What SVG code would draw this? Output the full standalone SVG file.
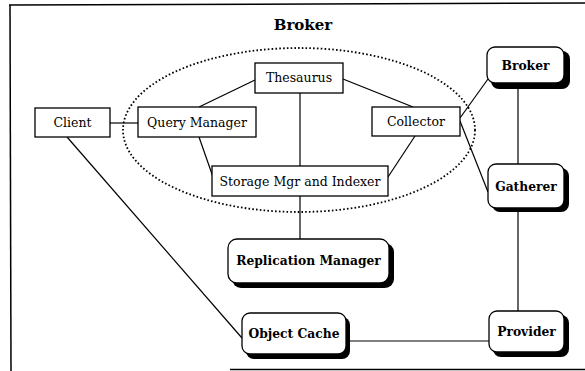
<svg xmlns="http://www.w3.org/2000/svg" width="585" height="371" viewBox="0 0 585 371">
<style>
.frame{stroke:#000;stroke-width:1.5;fill:none}
.box{fill:#fff;stroke:#000;stroke-width:1.3}
.rbox{fill:#fff;stroke:#000;stroke-width:1.3}
.shadow{fill:#000}
.conn line,.conn path{stroke:#000;stroke-width:1.2;fill:none}
.ell{fill:none;stroke:#000;stroke-width:1.8;stroke-dasharray:1.6 2.2}
.t{font-family:"DejaVu Serif","Liberation Serif",serif;font-size:12.5px;fill:#000;text-anchor:middle}
.b{font-family:"DejaVu Serif","Liberation Serif",serif;font-size:12.3px;font-weight:bold;fill:#000;text-anchor:middle}
.title{font-family:"DejaVu Serif","Liberation Serif",serif;font-size:15px;font-weight:bold;fill:#000;text-anchor:middle}
</style>
<rect width="585" height="371" fill="#fff"/>
<g id="frame">
<line class="frame" x1="9" y1="5" x2="585" y2="3"/>
<line class="frame" x1="10" y1="5" x2="11" y2="371"/>
<line class="frame" x1="230" y1="369.5" x2="585" y2="369.5"/>
</g>
<text class="title" x="303" y="30">Broker</text>
<ellipse class="ell" cx="299" cy="130" rx="176" ry="82"/>
<g class="conn" id="connectors">
<line x1="110" y1="123" x2="138" y2="123"/>
<line x1="199" y1="107" x2="255" y2="80"/>
<line x1="199" y1="137" x2="213" y2="177"/>
<line x1="300" y1="93" x2="300" y2="166"/>
<line x1="343" y1="79" x2="413" y2="107"/>
<line x1="415" y1="136" x2="388" y2="177"/>
<line x1="460" y1="118" x2="488" y2="79"/>
<line x1="460" y1="121" x2="488" y2="192"/>
<line x1="518" y1="83" x2="518" y2="164"/>
<line x1="518" y1="208" x2="518" y2="311"/>
<line x1="300" y1="196" x2="300" y2="239"/>
<line x1="67" y1="137" x2="242" y2="338"/>
<line x1="350" y1="341" x2="489" y2="341"/>
</g>
<g id="client"><rect class="box" x="35" y="108" width="75" height="29"/><text class="t" x="72.5" y="127">Client</text></g>
<g id="query-manager"><rect class="box" x="138" y="107" width="118" height="30"/><text class="t" x="197" y="126.5">Query Manager</text></g>
<g id="thesaurus"><rect class="box" x="255" y="63" width="88" height="30"/><text class="t" x="299" y="82">Thesaurus</text></g>
<g id="collector"><rect class="box" x="372" y="107" width="88" height="29"/><text class="t" x="416" y="126">Collector</text></g>
<g id="storage"><rect class="box" x="212" y="166" width="176" height="30"/><text class="t" x="300" y="185.5">Storage Mgr and Indexer</text></g>
<g id="broker"><rect class="shadow" x="491" y="51" width="79" height="38" rx="8"/><rect class="rbox" x="487" y="47" width="77" height="36" rx="8"/><text class="b" x="525.5" y="69.5">Broker</text></g>
<g id="gatherer"><rect class="shadow" x="492" y="168" width="77" height="44" rx="8"/><rect class="rbox" x="488" y="164" width="76" height="44" rx="8"/><text class="b" x="526" y="190.5">Gatherer</text></g>
<g id="replication-manager"><rect class="shadow" x="232" y="243" width="162" height="45" rx="9"/><rect class="rbox" x="228" y="239" width="161" height="44" rx="9"/><text class="b" x="308.5" y="265">Replication Manager</text></g>
<g id="object-cache"><rect class="shadow" x="246" y="317" width="104" height="42" rx="8"/><rect class="rbox" x="242" y="313" width="104" height="41" rx="8"/><text class="b" x="294" y="338">Object Cache</text></g>
<g id="provider"><rect class="shadow" x="493" y="315" width="76" height="42" rx="8"/><rect class="rbox" x="489" y="311" width="75" height="41" rx="8"/><text class="b" x="526.5" y="336">Provider</text></g>
</svg>
